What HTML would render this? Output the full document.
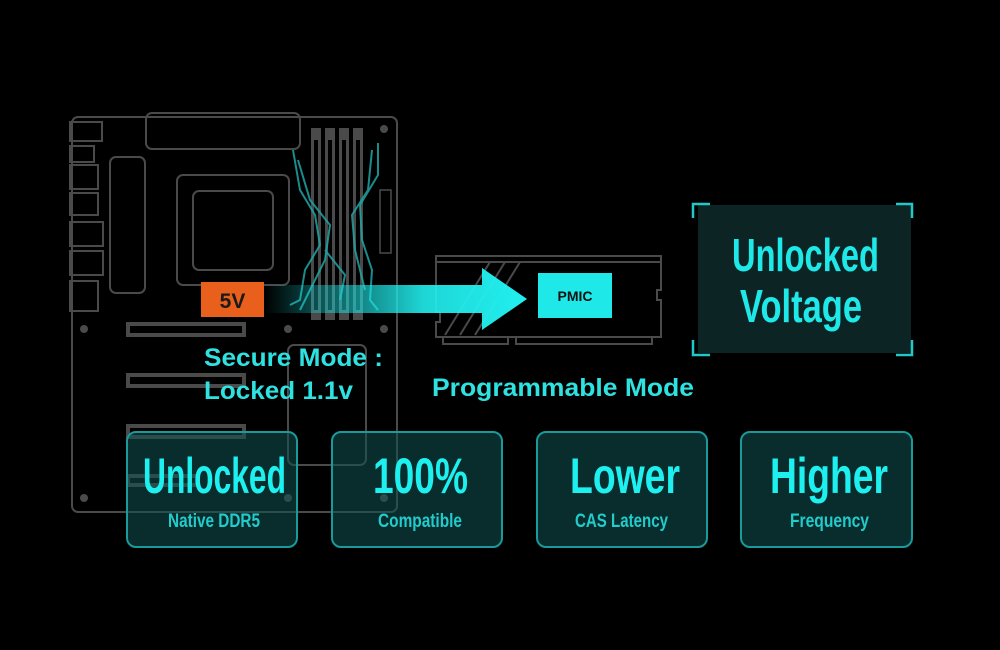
<!DOCTYPE html>
<html><head><meta charset="utf-8"><style>
html,body{margin:0;padding:0;background:#000;}
svg{display:block}
text{font-family:"Liberation Sans",sans-serif;}
</style></head><body>
<svg width="1000" height="650" viewBox="0 0 1000 650" xmlns="http://www.w3.org/2000/svg">
<defs>
<linearGradient id="ag" x1="265" y1="0" x2="530" y2="0" gradientUnits="userSpaceOnUse">
<stop offset="0" stop-color="#1ee8e8" stop-opacity="0"/>
<stop offset="0.2" stop-color="#1ee8e8" stop-opacity="0.35"/>
<stop offset="0.6" stop-color="#22eeee" stop-opacity="0.9"/>
<stop offset="1" stop-color="#22f0f0"/>
</linearGradient>
</defs>
<rect width="1000" height="650" fill="#000"/>
<g fill="none" stroke="#4a4a4a" stroke-width="2">
<rect x="72" y="117" width="325" height="395" rx="6"/>
<rect x="146" y="113" width="154" height="36" rx="6"/>
<rect x="70" y="122" width="32" height="19"/>
<rect x="70" y="146" width="24" height="16"/>
<rect x="70" y="165" width="28" height="24"/>
<rect x="70" y="193" width="28" height="22"/>
<rect x="70" y="222" width="33" height="24"/>
<rect x="70" y="251" width="33" height="24"/>
<rect x="70" y="281" width="28" height="30"/>
<rect x="110" y="157" width="35" height="136" rx="6"/>
<rect x="177" y="175" width="112" height="110" rx="6"/>
<rect x="193" y="191" width="80" height="79" rx="6"/>
<rect x="288" y="345" width="78" height="120" rx="6"/>
<rect x="380" y="190" width="11" height="63" stroke-width="1.5"/>
</g>
<g fill="#4a4a4a">
<rect x="311" y="128" width="10" height="192"/><rect x="325" y="128" width="10" height="192"/>
<rect x="339" y="128" width="10" height="192"/><rect x="353" y="128" width="10" height="192"/>
<circle cx="384" cy="129" r="4"/><circle cx="84" cy="329" r="4"/><circle cx="288" cy="329" r="4"/><circle cx="384" cy="329" r="4"/>
<circle cx="84" cy="498" r="4"/><circle cx="288" cy="498" r="4"/><circle cx="384" cy="498" r="4"/>
</g>
<g fill="#000"><rect x="314" y="140" width="4" height="170"/><rect x="328" y="140" width="4" height="170"/><rect x="342" y="140" width="4" height="170"/><rect x="356" y="140" width="4" height="170"/></g>
<g fill="none" stroke="#4a4a4a" stroke-width="4">
<rect x="128" y="324" width="116" height="11"/>
<rect x="128" y="375" width="116" height="11"/>
<rect x="128" y="426" width="116" height="11"/>
<rect x="128" y="476" width="70" height="9"/>
</g>
<g fill="none" stroke="#1fa5a5" stroke-width="2" opacity="0.85">
<path d="M293 150 L300 190 L315 215 L320 245 L305 270 L300 300 L290 305"/>
<path d="M298 160 L310 200 L330 225 L325 260 L310 290 L300 310"/>
<path d="M378 143 L378 175 L360 205 L362 240 L372 270 L370 300 L378 310"/>
<path d="M372 150 L368 190 L352 215 L355 250 L365 290"/>
<path d="M325 250 L345 275 L340 300"/>
</g>
<rect x="201" y="282" width="63" height="35" fill="#e8601c"/>
<text x="232.5" y="308" font-size="21" font-weight="bold" fill="#1a1a1a" text-anchor="middle">5V</text>
<g fill="none" stroke="#4a4a4a" stroke-width="2">
<path d="M436 256 H661 V290 H657 V300 H661 V337 H436 V322 H440 V312 H436 Z"/>
<line x1="436" y1="262" x2="661" y2="262"/>
<path d="M443 337 V344 H508 V337 M516 337 V344 H652 V337"/>
<line x1="445" y1="335" x2="490" y2="262"/><line x1="460" y1="335" x2="505" y2="262"/><line x1="475" y1="335" x2="520" y2="262"/>
</g>
<path d="M265 285 H482 V268 L527 299 L482 330 V313 H265 Z" fill="url(#ag)"/>
<rect x="538" y="273" width="74" height="45" fill="#1ee8e8"/>
<text x="575" y="301" font-size="14" font-weight="bold" fill="#111" text-anchor="middle">PMIC</text>
<g font-size="25" font-weight="bold" fill="#2ee2e2">
<text x="204" y="366" textLength="179" lengthAdjust="spacingAndGlyphs">Secure Mode :</text>
<text x="204" y="399" textLength="149" lengthAdjust="spacingAndGlyphs">Locked 1.1v</text>
<text x="432" y="396" textLength="262" lengthAdjust="spacingAndGlyphs">Programmable Mode</text>
</g>
<rect x="698" y="205" width="213" height="148" fill="#0d2424"/>
<g fill="none" stroke="#20c8c8" stroke-width="2.5">
<path d="M693 218 V204 H710"/><path d="M896 204 H912 V218"/>
<path d="M693 340 V355 H710"/><path d="M896 355 H912 V340"/>
</g>
<g font-size="46" font-weight="bold" fill="#1ee8e8">
<text x="732" y="271" textLength="147" lengthAdjust="spacingAndGlyphs">Unlocked</text>
<text x="740" y="322" textLength="122" lengthAdjust="spacingAndGlyphs">Voltage</text>
</g>
<g fill="rgba(16,80,80,0.55)" stroke="#1a9a9a" stroke-width="2">
<rect x="127" y="432" width="170" height="115" rx="9"/>
<rect x="332" y="432" width="170" height="115" rx="9"/>
<rect x="537" y="432" width="170" height="115" rx="9"/>
<rect x="741" y="432" width="171" height="115" rx="9"/>
</g>
<g font-size="50" font-weight="bold" fill="#1ef0f0">
<text x="143" y="493" textLength="143" lengthAdjust="spacingAndGlyphs">Unlocked</text>
<text x="373" y="493" textLength="95" lengthAdjust="spacingAndGlyphs">100%</text>
<text x="570" y="493" textLength="110" lengthAdjust="spacingAndGlyphs">Lower</text>
<text x="770" y="493" textLength="118" lengthAdjust="spacingAndGlyphs">Higher</text>
</g>
<g font-size="19" font-weight="bold" fill="#22cccc">
<text x="168" y="527" textLength="92" lengthAdjust="spacingAndGlyphs">Native DDR5</text>
<text x="378" y="527" textLength="84" lengthAdjust="spacingAndGlyphs">Compatible</text>
<text x="575" y="527" textLength="93" lengthAdjust="spacingAndGlyphs">CAS Latency</text>
<text x="790" y="527" textLength="79" lengthAdjust="spacingAndGlyphs">Frequency</text>
</g>
</svg>
</body></html>
